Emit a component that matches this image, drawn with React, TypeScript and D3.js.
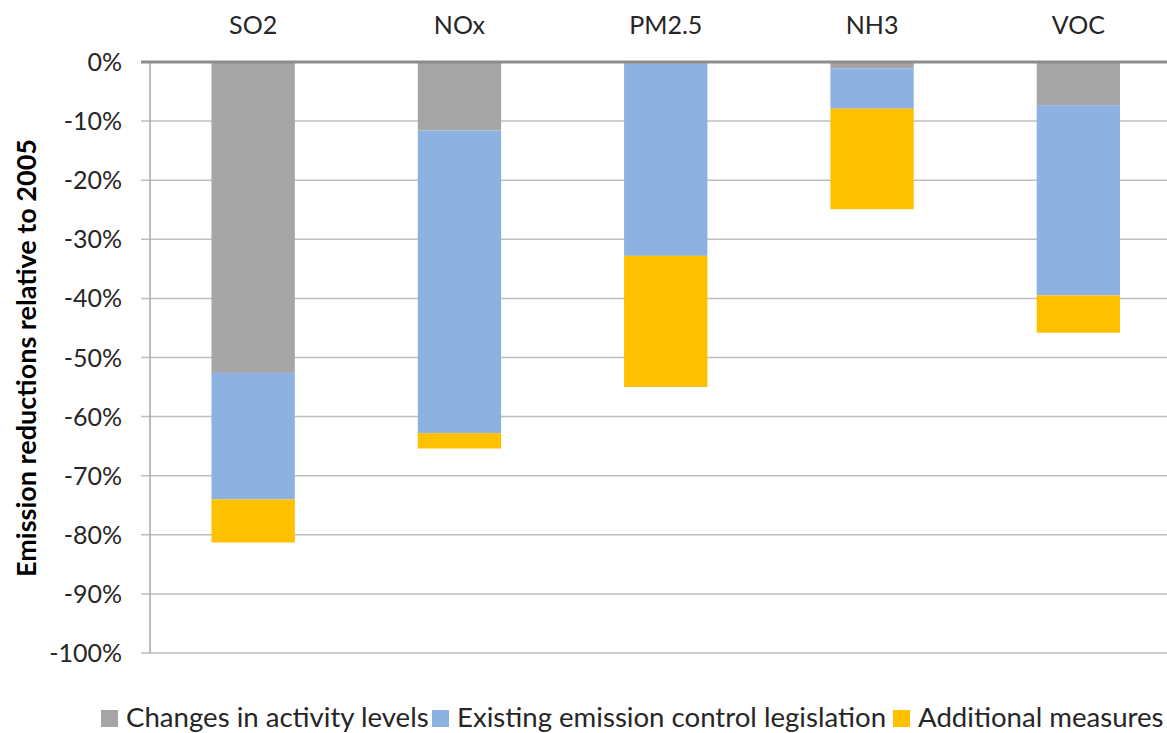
import React, { useEffect, useRef } from 'react'
import * as d3 from 'd3'

const pollutants = ['SO2', 'NOx', 'PM2.5', 'NH3', 'VOC']
const seriesNames = ['Changes in activity levels', 'Existing emission control legislation', 'Additional measures']
const seriesColors = ['#a5a5a5', '#8db2e2', '#ffc000']
// reductions relative to 2005, in percent (each part of the stack)
const activityLevels = [-52.6, -11.6, -0.3, -1.1, -7.3]
const existingLegislation = [-21.4, -51.2, -32.5, -6.8, -32.2]
const additionalMeasures = [-7.3, -2.6, -22.2, -17.0, -6.3]
const yTicks = [0, -10, -20, -30, -40, -50, -60, -70, -80, -90, -100]

const W = 1167
const H = 733
const FONT = 'Lato, "Open Sans", sans-serif'

export default function App() {
  const svgRef = useRef<SVGSVGElement>(null)

  useEffect(() => {
    const svg = d3.select(svgRef.current)
    svg.selectAll('*').remove()

    const left = 150
    const top = 62
    const bottom = 653
    const step = 206.3

    const x = d3.scaleBand()
      .domain(pollutants)
      .range([left, left + step * pollutants.length])
      .paddingInner(0)
    const barW = x.bandwidth() * 0.404
    const y = d3.scaleLinear().domain([0, -100]).range([top, bottom])

    const table = pollutants.map((p, i) => ({
      name: p,
      a: activityLevels[i],
      b: existingLegislation[i],
      c: additionalMeasures[i],
    }))
    const stack = d3.stack<any>()
      .keys(['a', 'b', 'c'])
      .offset(d3.stackOffsetDiverging)
    const layers = stack(table)

    // gridlines + ticks
    svg.append('g').selectAll('line')
      .data(yTicks)
      .enter().append('line')
      .attr('x1', left - 9)
      .attr('x2', W)
      .attr('y1', d => y(d))
      .attr('y2', d => y(d))
      .attr('stroke', '#bfbfbf')
      .attr('stroke-width', 1.5)

    // axis line
    svg.append('line')
      .attr('x1', left).attr('x2', left)
      .attr('y1', top).attr('y2', bottom)
      .attr('stroke', '#a6a6a6')
      .attr('stroke-width', 1.5)

    // tick labels
    svg.append('g').selectAll('text')
      .data(yTicks)
      .enter().append('text')
      .attr('x', 122)
      .attr('y', d => y(d) + 9)
      .attr('text-anchor', 'end')
      .style('font-family', FONT)
      .style('font-size', '25px')
      .attr('fill', '#262626')
      .text(d => d + '%')

    // bars
    svg.append('g').selectAll('g')
      .data(layers)
      .enter().append('g')
      .attr('fill', (_d, i) => seriesColors[i])
      .selectAll('rect')
      .data(d => d)
      .enter().append('rect')
      .attr('x', d => (x(d.data.name) as number) + (x.bandwidth() - barW) / 2)
      .attr('width', barW)
      .attr('y', d => y(d[1]))
      .attr('height', d => y(d[0]) - y(d[1]))

    // zero line on top
    svg.append('line')
      .attr('x1', left - 9).attr('x2', W)
      .attr('y1', y(0)).attr('y2', y(0))
      .attr('stroke', '#8c8c8c')
      .attr('stroke-width', 3)

    // category labels
    svg.append('g').selectAll('text')
      .data(pollutants)
      .enter().append('text')
      .attr('x', d => (x(d) as number) + x.bandwidth() / 2)
      .attr('y', 34)
      .attr('text-anchor', 'middle')
      .style('font-family', FONT)
      .style('font-size', '25px')
      .attr('fill', '#262626')
      .text(d => d)

    // y title
    svg.append('text')
      .attr('transform', 'translate(36,358) rotate(-90)')
      .attr('text-anchor', 'middle')
      .style('font-family', FONT)
      .style('font-size', '27px')
      .style('font-weight', 'bold')
      .attr('fill', '#000')
      .text('Emission reductions relative to 2005')

    // legend
    const legendX = [101, 432, 893]
    const legend = svg.append('g')
    seriesNames.forEach((name, i) => {
      legend.append('rect')
        .attr('x', legendX[i])
        .attr('y', 710)
        .attr('width', 17)
        .attr('height', 17)
        .attr('fill', seriesColors[i])
      legend.append('text')
        .attr('x', legendX[i] + 25)
        .attr('y', 727)
        .style('font-family', FONT)
        .style('font-size', '27.6px')
        .attr('fill', '#262626')
        .text(name)
    })
  }, [])

  return (
    <svg
      ref={svgRef}
      width={W}
      height={H}
      style={{ position: 'fixed', left: 0, top: 0, display: 'block', background: '#fff' }}
    />
  )
}
